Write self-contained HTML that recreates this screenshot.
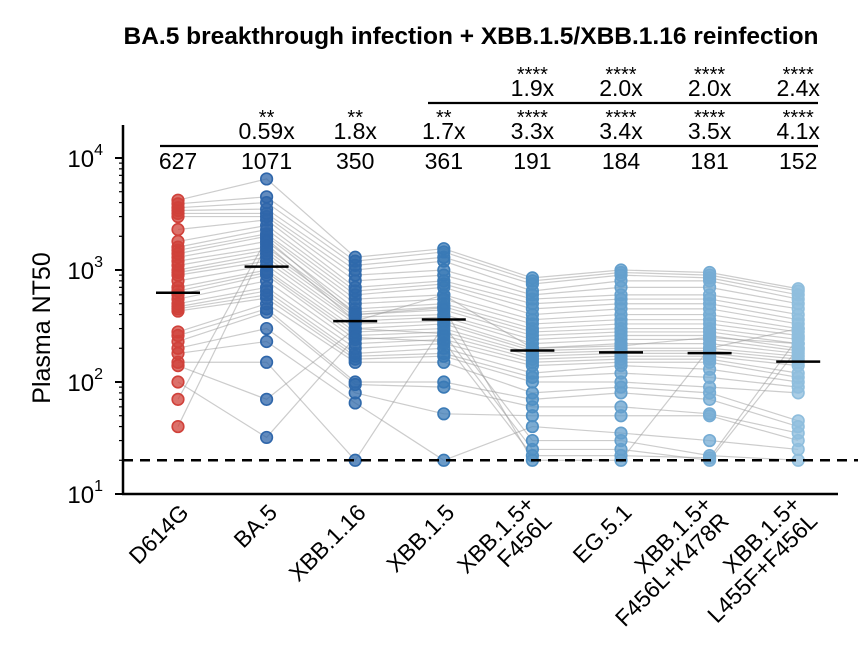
<!DOCTYPE html>
<html><head><meta charset="utf-8"><style>
html,body{margin:0;padding:0;background:#fff;}
svg{display:block;font-family:"Liberation Sans",Arial,sans-serif;}
</style></head><body>
<svg id="chart" width="858" height="650" viewBox="0 0 858 650">
<text x="471" y="44" text-anchor="middle" font-size="24.5" font-weight="bold">BA.5 breakthrough infection + XBB.1.5/XBB.1.16 reinfection</text>
<text transform="translate(50,328) rotate(-90)" text-anchor="middle" font-size="25">Plasma NT50</text>
<g id="lines"></g>
<g id="pts"></g>
<g id="axes"></g>
<g id="ann"></g>
</svg>
<script>
const categories=["D614G","BA.5","XBB.1.16","XBB.1.5","XBB.1.5+|F456L","EG.5.1","XBB.1.5+|F456L+K478R","XBB.1.5+|L455F+F456L"];
const medians=[627,1071,350,361,191,184,181,152];
const foldVsBA5=["","0.59x","1.8x","1.7x","3.3x","3.4x","3.5x","4.1x"];
const sigVsBA5=["","**","**","**","****","****","****","****"];
const foldVsXBB15=["","","","","1.9x","2.0x","2.0x","2.4x"];
const sigVsXBB15=["","","","","****","****","****","****"];
const yTicks=[10,100,1000,10000];
const yTickLabels=["1","2","3","4"];
const limit=20;
const g0=[4200,3900,3600,3400,3200,3000,2300,1800,1600,1500,1400,1300,1200,1100,1000,950,900,800,700,650,600,550,500,470,450,430,280,260,230,200,180,150,140,100,70,40];
const g1=[6500,4500,4000,3500,3200,3000,2800,2500,2300,2100,2000,1800,1600,1500,1400,1300,1200,1100,1000,950,900,800,700,650,600,560,500,450,420,300,230,150,70,32,1900,1700];
const g2=[1300,1200,1100,1000,900,800,700,650,600,550,500,450,420,400,380,350,330,300,280,260,240,220,200,180,170,160,150,100,95,80,65,20,300,250,400,350];
const g3=[1550,1450,1300,1200,1000,900,800,750,700,600,550,500,470,440,400,380,350,330,300,280,260,240,220,200,180,170,150,100,90,52,20,320,270,230,460,600];
const g4=[850,800,750,650,600,550,500,450,400,360,330,300,280,260,240,220,200,190,180,170,160,150,140,120,110,100,80,70,60,50,40,30,25,22,20,200];
const g5=[1000,950,900,800,700,600,550,500,450,400,360,330,300,280,260,240,220,200,190,180,170,160,150,140,120,100,90,80,60,50,35,30,25,22,20,210];
const g6=[950,900,850,800,700,600,550,500,450,400,360,330,300,280,260,240,220,200,190,180,170,160,150,130,110,90,80,70,52,50,30,22,20,21,200,250];
const g7=[680,650,600,550,500,450,400,360,330,300,280,260,240,220,200,190,180,170,160,150,140,120,110,100,90,80,45,40,35,30,25,20,200,250,300,220];
const groups=[g0,g1,g2,g3,g4,g5,g6,g7];
const fills=["#d0413a","#2f66aa","#2f69ab","#3a7ab6","#4f8fc3","#65a0cd","#76acd4","#8fbedd"];
const NS="http://www.w3.org/2000/svg";
function y(v){return 494-112*(Math.log10(v)-1);}
function x(i){return 178+i*88.6;}
function mk(tag,attrs,parent,txt){const e=document.createElementNS(NS,tag);for(const k in attrs)e.setAttribute(k,attrs[k]);if(txt!==undefined)e.textContent=txt;parent.appendChild(e);return e;}
const L=document.getElementById('lines'),P=document.getElementById('pts'),A=document.getElementById('axes'),N=document.getElementById('ann');
for(let d=0;d<g0.length;d++){
  let pts=groups.map((g,i)=>x(i)+","+y(g[d])).join(" ");
  const pl=mk('polyline',{points:pts,fill:"none",stroke:"#9a9a9a","stroke-opacity":"0.5","stroke-width":"1.2"},L);
  
  
}
groups.forEach((g,i)=>{
  g.forEach(v=>{
    const c=mk('circle',{cx:x(i),cy:y(v),r:5.8,fill:fills[i],"fill-opacity":"0.75",stroke:fills[i],"stroke-width":"1.6"},P);
    
    
  });
  const m=mk('line',{x1:x(i)-22,x2:x(i)+22,y1:y(medians[i]),y2:y(medians[i]),stroke:"#000","stroke-width":"2.5"},P);
  
  
});
const dl=mk('line',{x1:123,x2:858,y1:y(limit),y2:y(limit),stroke:"#000","stroke-width":"2.5","stroke-dasharray":"10,7"},A);


mk('line',{x1:123,x2:123,y1:125,y2:495,stroke:"#000","stroke-width":"2.5"},A);
mk('line',{x1:122,x2:838,y1:494,y2:494,stroke:"#000","stroke-width":"2.5"},A);
for(let dec=1;dec<=4;dec++){
  for(let m=1;m<10;m++){
    const v=Math.pow(10,dec)*m; if(v>20000)break;
    const yy=y(v); if(yy<125)continue;
    mk('line',{x1:123-(m===1?8:4),x2:123,y1:yy,y2:yy,stroke:"#000","stroke-width":m===1?2:1.2},A);
  }
}
yTicks.forEach((t,i)=>{
  const tx=mk('text',{x:103,y:y(t)+9,"text-anchor":"end","font-size":"24"},A,"10");
  
  
  mk('tspan',{dy:"-12","font-size":"16"},tx,yTickLabels[i]);
});
categories.forEach((c,i)=>{
  const parts=c.split("|");
  const t=mk('text',{transform:`translate(${x(i)+12},${514}) rotate(-45)`,"text-anchor":"end","font-size":"23"},A);
  
  
  if(parts.length===1){mk('tspan',{x:0,y:0},t,parts[0]);}
  else{mk('tspan',{x:0,y:-12},t,parts[0]);mk('tspan',{x:0,y:12},t,parts[1]);}
});
mk('line',{x1:160,x2:818,y1:146,y2:146,stroke:"#000","stroke-width":"2.2"},N);
mk('line',{x1:428,x2:818,y1:103,y2:103,stroke:"#000","stroke-width":"2.2"},N);
medians.forEach((m,i)=>{
  const t=mk('text',{x:x(i),y:169,"text-anchor":"middle","font-size":"23"},N,String(m));
  
  
  if(foldVsBA5[i]){
    mk('text',{x:x(i),y:139,"text-anchor":"middle","font-size":"23"},N,foldVsBA5[i]);
    mk('text',{x:x(i),y:124,"text-anchor":"middle","font-size":"20"},N,sigVsBA5[i]);
  }
  if(foldVsXBB15[i]){
    mk('text',{x:x(i),y:96,"text-anchor":"middle","font-size":"23"},N,foldVsXBB15[i]);
    mk('text',{x:x(i),y:81,"text-anchor":"middle","font-size":"20"},N,sigVsXBB15[i]);
  }
});
</script>
</body></html>
